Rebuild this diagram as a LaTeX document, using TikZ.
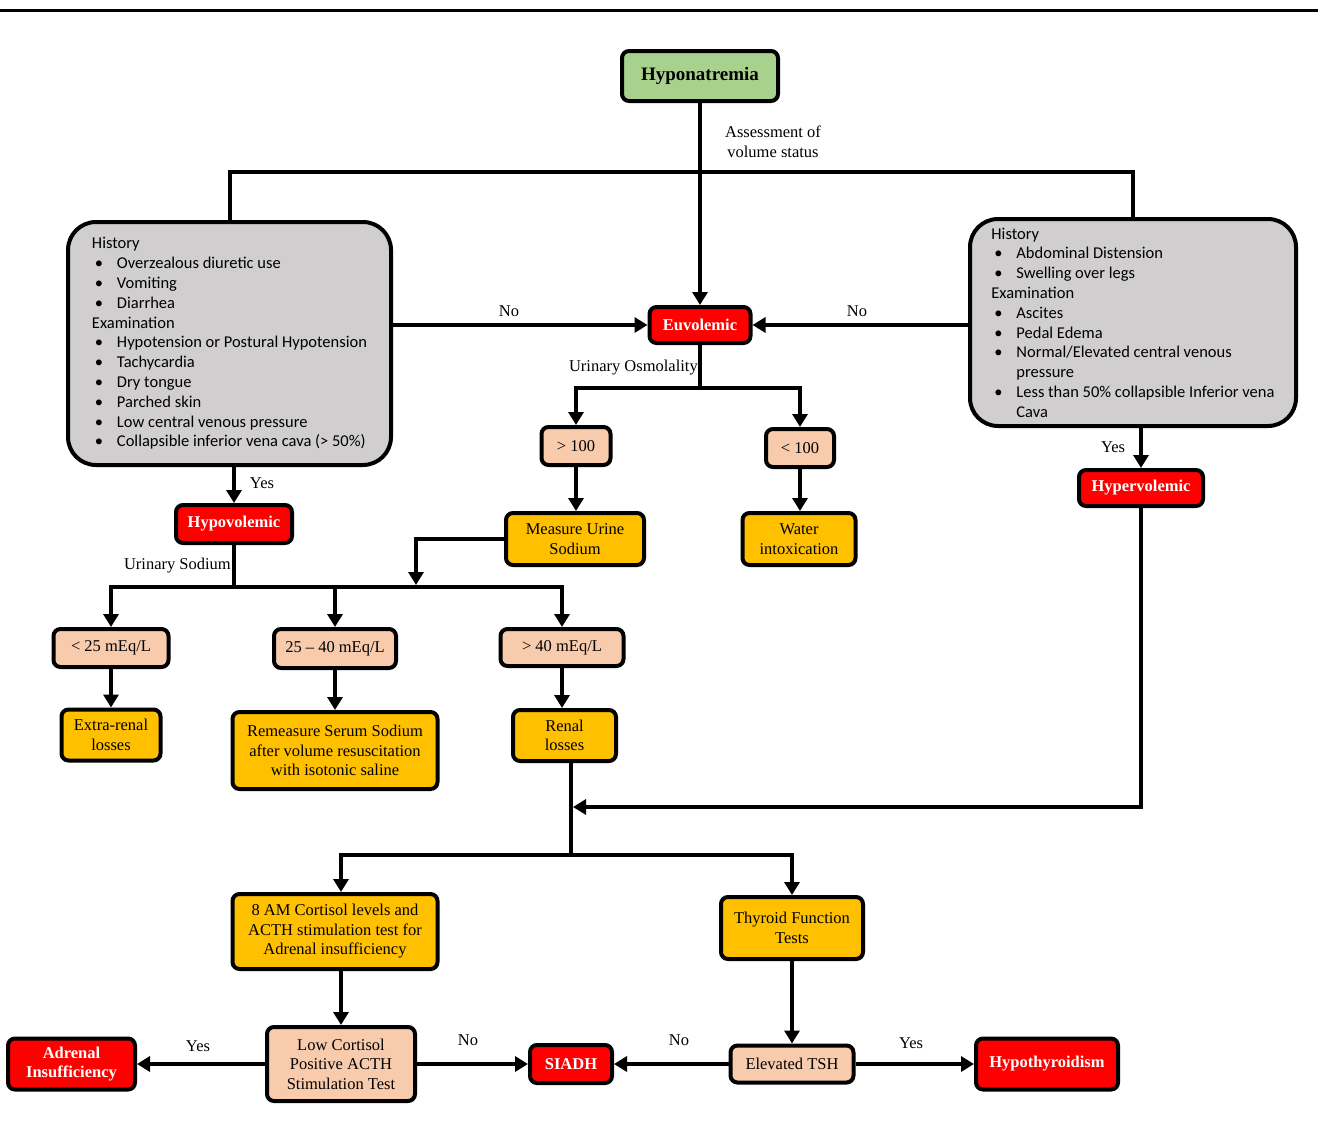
\documentclass[tikz,border=0pt]{standalone}
\usepackage{fontspec}
\setmainfont{Liberation Serif}
\newfontfamily\calib{Carlito}
\usetikzlibrary{arrows.meta}
\definecolor{cgreen}{HTML}{A9D18E}
\definecolor{cred}{HTML}{FF0000}
\definecolor{corange}{HTML}{FFC000}
\definecolor{cpeach}{HTML}{F8CBAD}
\definecolor{cgray}{HTML}{D0CECE}
\newcommand\gbul{\makebox[25pt][l]{\hspace{3pt}•}}
\newcommand\gind{\makebox[25pt][l]{}}
\begin{document}
\begin{tikzpicture}[x=1pt,y=-1pt,
 bx/.style={draw=black, line width=4pt, rounded corners=7pt, align=center, inner sep=2pt, font=\fontsize{16.5}{19.5}\selectfont},
 greenbox/.style={bx, fill=cgreen, font=\bfseries\fontsize{19}{22}\selectfont},
 redbox/.style={bx, fill=cred, text=white, font=\bfseries\fontsize{16.5}{19.5}\selectfont},
 orbox/.style={bx, fill=corange},
 pebox/.style={bx, fill=cpeach},
 graybox/.style={draw=black, line width=4pt, rounded corners=28pt, fill=cgray, align=left, inner sep=0pt},
 lbl/.style={font=\fontsize{16.5}{20}\selectfont, inner sep=0pt, align=center},
 ln/.style={line width=4pt},
 arr/.style={line width=4pt, -{Triangle[length=13pt,width=15pt]}},
]
\useasboundingbox (0,0) rectangle (1328,1135);
\draw[line width=3pt] (0,10) -- (1318,10);

% nodes
\node[greenbox, minimum width=156, minimum height=50] (hypo) at (700,76) {Hyponatremia};
\node[graybox, minimum width=323, minimum height=243, font=\calib\fontsize{16.5}{19.8}\selectfont] (lbox) at (229.5,343.5) {History\\
\gbul Overzealous diuretic use\\
\gbul Vomiting\\
\gbul Diarrhea\\
Examination\\
\gbul Hypotension or Postural Hypotension\\
\gbul Tachycardia\\
\gbul Dry tongue\\
\gbul Parched skin\\
\gbul Low central venous pressure\\
\gbul Collapsible inferior vena cava (> 50\%)};
\node[graybox, minimum width=326, minimum height=207, font=\calib\fontsize{16.5}{19.8}\selectfont] (rbox) at (1133,322.5) {History\\
\gbul Abdominal Distension\\
\gbul Swelling over legs\\
Examination\\
\gbul Ascites\\
\gbul Pedal Edema\\
\gbul Normal/Elevated central venous\\
\gind pressure\\
\gbul Less than 50\% collapsible Inferior vena\\
\gind Cava};
\node[redbox, minimum width=101, minimum height=36] (euvo) at (700,325) {Euvolemic};
\node[pebox, minimum width=69, minimum height=38] (gt100) at (576,446) {> 100};
\node[pebox, minimum width=68, minimum height=38] (lt100) at (800,448) {< 100};
\node[orbox, minimum width=138, minimum height=52] (mus) at (575,539) {Measure Urine\\Sodium};
\node[orbox, minimum width=113, minimum height=52] (water) at (799,539) {Water\\intoxication};
\node[redbox, minimum width=116, minimum height=38] (hypov) at (234,524) {Hypovolemic};
\node[pebox, minimum width=115, minimum height=38] (lt25) at (111,648) {< 25 mEq/L};
\node[pebox, minimum width=122, minimum height=39] (mid) at (335,648.5) {25 – 40 mEq/L};
\node[pebox, minimum width=123, minimum height=37] (gt40) at (562,647.5) {> 40 mEq/L};
\node[orbox, minimum width=99, minimum height=51] (extra) at (111,735) {Extra-renal\\losses};
\node[orbox, minimum width=205, minimum height=77] (remeas) at (335,750.5) {Remeasure Serum Sodium\\after volume resuscitation\\with isotonic saline};
\node[orbox, minimum width=103, minimum height=51] (renal) at (564.5,735.5) {Renal\\losses};
\node[redbox, minimum width=124, minimum height=36] (hyperv) at (1141,488) {Hypervolemic};
\node[orbox, minimum width=205, minimum height=75] (cort) at (335,931.5) {8 AM Cortisol levels and\\ACTH stimulation test for\\Adrenal insufficiency};
\node[orbox, minimum width=142, minimum height=62] (thyr) at (792,928) {Thyroid Function\\Tests};
\node[pebox, minimum width=148, minimum height=74] (lowc) at (341,1064) {Low Cortisol\\Positive ACTH\\Stimulation Test};
\node[redbox, minimum width=127, minimum height=51] (adren) at (71.5,1064) {Adrenal\\Insufficiency};
\node[redbox, minimum width=82, minimum height=38] (siadh) at (571,1064) {SIADH};
\node[pebox, minimum width=123, minimum height=37] (tsh) at (792,1064) {Elevated TSH};
\node[redbox, minimum width=142, minimum height=51] (hypoth) at (1047,1064) {Hypothyroidism};

% labels
\node[lbl] (lassess) at (773,142) {Assessment of\\volume status};
\node[lbl] (lno1) at (509,311) {No};
\node[lbl] (lno2) at (857,311) {No};
\node[lbl, anchor=east] (losm) at (698,368) {Urinary Osmolality};
\node[lbl] (lyes1) at (262,483) {Yes};
\node[lbl, anchor=east] (lsod) at (231,566) {Urinary Sodium};
\node[lbl] (lyes2) at (1113,447) {Yes};
\node[lbl] (lyes3) at (198,1046) {Yes};
\node[lbl] (lno3) at (468,1040) {No};
\node[lbl] (lno4) at (679,1040) {No};
\node[lbl] (lyes4) at (911,1043) {Yes};

% coordinates
\coordinate (tbar) at (0,172);
\coordinate (osm) at (0,388);
\coordinate (sod) at (0,587);
\coordinate (mj) at (416,585);
\coordinate (rj) at (573,807);
\coordinate (rl) at (571,0);
\coordinate (bj) at (571,855);

% connectors
\draw[arr] (hypo.south) -- (euvo.north);
\draw[ln] (lbox.north) -- (lbox.north |- tbar) -- (rbox.north |- tbar) -- (rbox.north);
\draw[arr] (lbox.east |- euvo.west) -- (euvo.west);
\draw[arr] (rbox.west |- euvo.east) -- (euvo.east);
\draw[arr] (euvo.south) -- (euvo.south |- osm) -| (gt100.north);
\draw[arr] (euvo.south |- osm) -| (lt100.north);
\draw[arr] (gt100.south) -- (gt100.south |- mus.north);
\draw[arr] (lt100.south) -- (lt100.south |- water.north);
\draw[arr] (mus.west) -| (mj);
\draw[arr] (lbox.south -| hypov.north) -- (hypov.north);
\draw[arr] (hypov.south) -- (hypov.south |- sod) -| (lt25.north);
\draw[arr] (hypov.south |- sod) -| (gt40.north);
\draw[arr] (mid.north |- sod) -- (mid.north);
\draw[arr] (lt25.south) -- (lt25.south |- extra.north);
\draw[arr] (mid.south) -- (mid.south |- remeas.north);
\draw[arr] (gt40.south) -- (gt40.south |- renal.north);
\draw[arr] (rbox.south -| hyperv.north) -- (hyperv.north);
\draw[arr] (hyperv.south) |- (rj);
\draw[ln] (renal.south -| rl) -- (bj);
\draw[arr] (bj) -| (lowc.north |- cort.north);
\draw[arr] (bj) -| (thyr.north);
\draw[arr] (lowc.north |- cort.south) -- (lowc.north);
\draw[arr] (thyr.south) -- (tsh.north);
\draw[arr] (lowc.west) -- (lowc.west -| adren.east);
\draw[arr] (lowc.east) -- (lowc.east -| siadh.west);
\draw[arr] (tsh.west) -- (tsh.west -| siadh.east);
\draw[arr] (tsh.east) -- (tsh.east -| hypoth.west);
\end{tikzpicture}
\end{document}
